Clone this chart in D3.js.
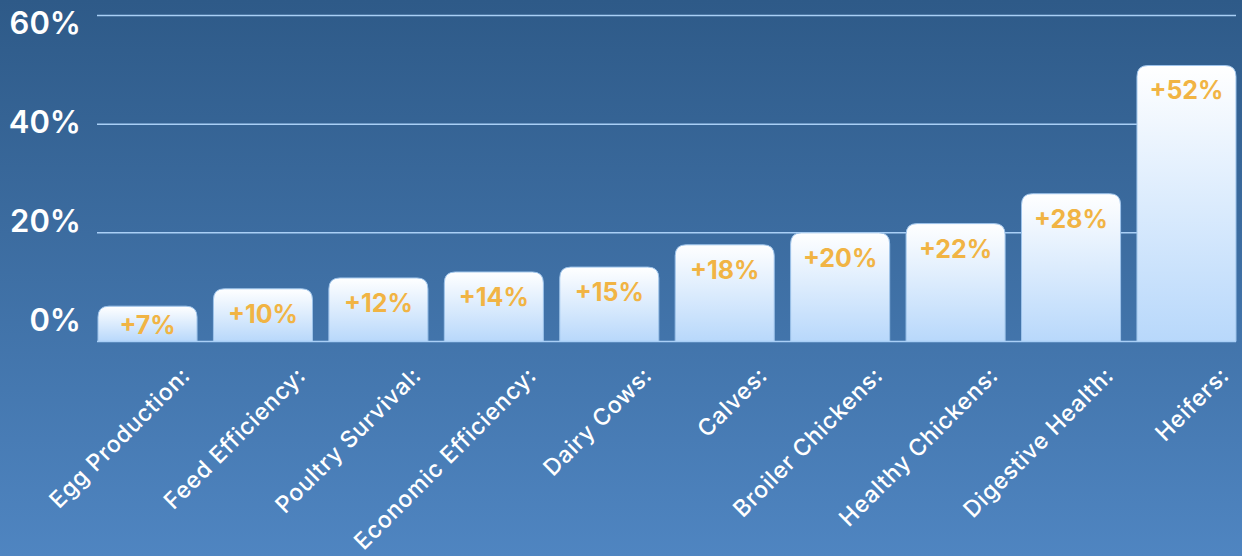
<!DOCTYPE html>
<html lang="en">
<head>
<meta charset="UTF-8">
<title>Improvement by category</title>
<style>
  body, html { margin: 0; padding: 0; overflow: hidden; }
  svg { display: block; font-family: "Inter", "Lato", sans-serif; }
</style>
</head>
<body>
<svg id="svg" width="1242" height="556"></svg>
<script src="https://d3js.org/d3.v7.min.js"></script>
<script>
  // data
  const categories = ['Egg Production:', 'Feed Efficiency:', 'Poultry Survival:', 'Economic Efficiency:',
    'Dairy Cows:', 'Calves:', 'Broiler Chickens:', 'Healthy Chickens:', 'Digestive Health:', 'Heifers:']
  const values = [6.5, 9.7, 11.7, 12.8, 13.7, 17.8, 20, 21.7, 27.2, 50.8] // bar heights, %
  const valueLabels = ['+7%', '+10%', '+12%', '+14%', '+15%', '+18%', '+20%', '+22%', '+28%', '+52%']
  const yTicks = [0, 20, 40, 60]

  const W = 1242, H = 556
  const svg = d3.select('#svg')
  const defs = svg.append('defs')

  const bg = defs.append('linearGradient').attr('id', 'bg')
    .attr('x1', 0).attr('y1', 0).attr('x2', 0).attr('y2', 1)
  bg.append('stop').attr('offset', '0%').attr('stop-color', '#2e5a88')
  bg.append('stop').attr('offset', '100%').attr('stop-color', '#4f85c1')

  const barGrad = defs.append('linearGradient').attr('id', 'barGrad')
    .attr('x1', 0).attr('y1', 0).attr('x2', 0).attr('y2', 1)
  barGrad.append('stop').attr('offset', '0%').attr('stop-color', '#ffffff')
  barGrad.append('stop').attr('offset', '100%').attr('stop-color', '#b8d8fb')

  svg.append('rect').attr('width', W).attr('height', H).attr('fill', 'url(#bg)')

  const x = d3.scaleBand()
    .domain(categories)
    .range([89.8, 1244.2])
    .paddingInner(0.142)
    .paddingOuter(0.071)

  const y = d3.scaleLinear().domain([0, 60]).range([341.5, 15.5])
  // the tick labels sit a little off their gridlines in the original
  const yLabel = d3.scaleLinear().domain([0, 60]).range([320, 23])

  // gridlines
  svg.append('g').selectAll('line')
    .data(yTicks.filter(t => t > 0))
    .join('line')
    .attr('x1', 97).attr('x2', 1236)
    .attr('y1', d => y(d)).attr('y2', d => y(d))
    .attr('stroke', '#a9cff6')
    .attr('stroke-width', 1.5)

  // y labels
  svg.append('g').selectAll('text')
    .data(yTicks)
    .join('text')
    .attr('x', 81)
    .attr('y', d => yLabel(d))
    .attr('dy', '0.36em')
    .attr('text-anchor', 'end')
    .attr('fill', '#ffffff')
    .attr('font-size', 31)
    .attr('font-weight', 600)
    .text(d => d + '%')

  // bars with rounded tops
  const r = 11
  function barPath(d) {
    const x0 = x(d.cat), x1 = x0 + x.bandwidth()
    const top = y(d.v), bot = y(0)
    return `M${x0},${bot} V${top + r} Q${x0},${top} ${x0 + r},${top} H${x1 - r} Q${x1},${top} ${x1},${top + r} V${bot} Z`
  }
  const rows = categories.map((c, i) => ({ cat: c, v: values[i], label: valueLabels[i] }))

  svg.append('g').selectAll('path')
    .data(rows)
    .join('path')
    .attr('d', barPath)
    .attr('fill', 'url(#barGrad)')
    .attr('stroke', '#9dc3ea')
    .attr('stroke-width', 1)

  // baseline
  svg.append('line')
    .attr('x1', 97).attr('x2', 1236)
    .attr('y1', y(0)).attr('y2', y(0))
    .attr('stroke', '#a9cff6')
    .attr('stroke-width', 1.5)

  // value labels
  svg.append('g').selectAll('text')
    .data(rows)
    .join('text')
    .attr('x', d => x(d.cat) + x.bandwidth() / 2)
    .attr('y', d => Math.min(y(d.v) + 34, y(0) - 7.5))
    .attr('text-anchor', 'middle')
    .attr('fill', '#f1b444')
    .attr('font-size', 25)
    .attr('font-weight', 700)
    .text(d => d.label)

  // category labels, rotated
  svg.append('g').selectAll('text')
    .data(categories)
    .join('text')
    .attr('transform', d => `translate(${x(d) + x.bandwidth() / 2 + 44},377) rotate(-45)`)
    .attr('text-anchor', 'end')
    .attr('fill', '#ffffff')
    .attr('font-size', 23)
    .attr('font-weight', 500)
    .attr('letter-spacing', 0.8)
    .text(d => d)
</script>
</body>
</html>
